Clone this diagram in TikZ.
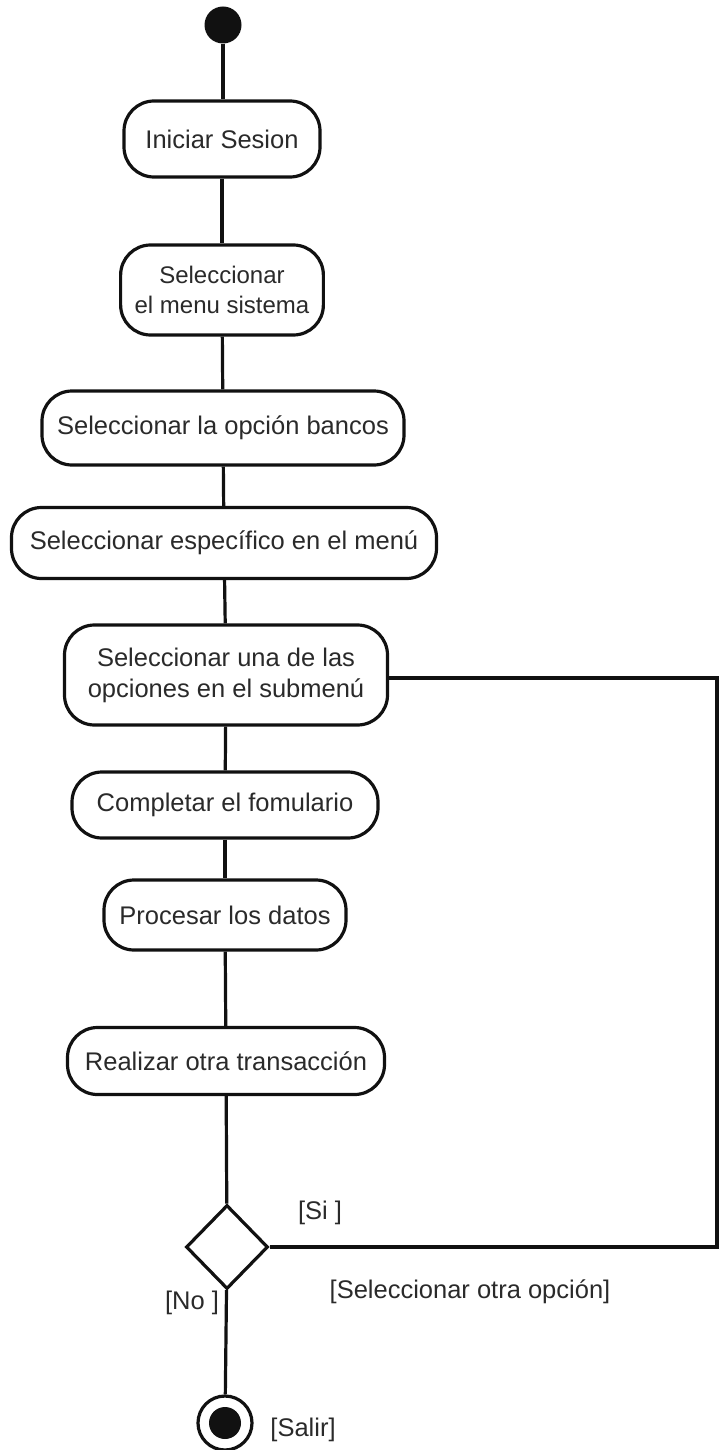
\documentclass[tikz,border=0pt]{standalone}
\usepackage{fontspec}
\setmainfont{Liberation Sans}
\usepackage{xcolor}
\usetikzlibrary{shapes.geometric}
\definecolor{aink}{HTML}{111111}
\definecolor{atext}{HTML}{2A2A2A}

\begin{document}
\begin{tikzpicture}[x=1pt,y=-1pt,
  every node/.style={font=\fontsize{25.5}{31}\selectfont,text=atext},
  act/.style={draw=aink,line width=3.2pt,rounded corners=30pt,align=center,inner xsep=12pt,inner ysep=0pt,fill=white},
  flow/.style={draw=aink,line width=3.2pt},
  guard/.style={inner sep=0pt}]
  \useasboundingbox (0,0) rectangle (719,1450);

  % start
  \node[circle,fill=aink,minimum size=37pt,inner sep=0pt] (ini) at (223,25) {};

  % activities
  \node[act,minimum width=196pt,minimum height=76pt] (sesion) at (222,139) {Iniciar Sesion};
  \node[act,minimum width=200pt,minimum height=90pt,inner xsep=14pt,font=\fontsize{24}{30}\selectfont] (menu) at (222,290) {Seleccionar\\el menu sistema};
  \node[act,minimum width=362pt,minimum height=74pt] (bancos) at (223,428) {Seleccionar la opción bancos};
  \node[act,minimum width=425pt,minimum height=71pt] (espec) at (224,543) {Seleccionar específico en el menú};
  \node[act,minimum width=323pt,minimum height=100pt] (submenu) at (226,675) {Seleccionar una de las\\opciones en el submenú};
  \node[act,minimum width=306pt,minimum height=66pt] (form) at (225,805) {Completar el fomulario};
  \node[act,minimum width=242pt,minimum height=70pt] (datos) at (225,915) {Procesar los datos};
  \node[act,minimum width=317pt,minimum height=67pt] (otra) at (226,1061) {Realizar otra transacción};

  % decision
  \node[diamond,draw=aink,line width=3.2pt,minimum width=82pt,minimum height=84pt,inner sep=0pt] (dec) at (227,1247) {};
  \coordinate (rgt) at (717,678);

  % end
  \node[circle,draw=aink,line width=3.2pt,minimum size=54pt,inner sep=0pt] (fin) at (225,1423) {};
  \fill[aink] (fin) circle (16pt);

  % guards
  \node[guard] (si) at (320,1213) {[Si ]};
  \node[guard] (otraop) at (470,1292) {[Seleccionar otra opción]};
  \node[guard] (no) at (192,1303) {[No ]};
  \node[guard] (salir) at (303,1430) {[Salir]};

  % flow
  \draw[flow] (ini) -- (ini |- sesion.north);
  \draw[flow] (sesion) -- (menu);
  \draw[flow] (menu) -- (bancos);
  \draw[flow] (bancos) -- (espec);
  \draw[flow] (espec) -- (submenu);
  \draw[flow] (submenu) -- (form);
  \draw[flow] (form) -- (datos);
  \draw[flow] (datos) -- (otra);
  \draw[flow] (otra) -- (dec);
  \draw[flow] (dec) -- (fin);
  \draw[flow] (dec.east) -| (rgt) -- (submenu.east |- rgt);
\end{tikzpicture}
\end{document}
